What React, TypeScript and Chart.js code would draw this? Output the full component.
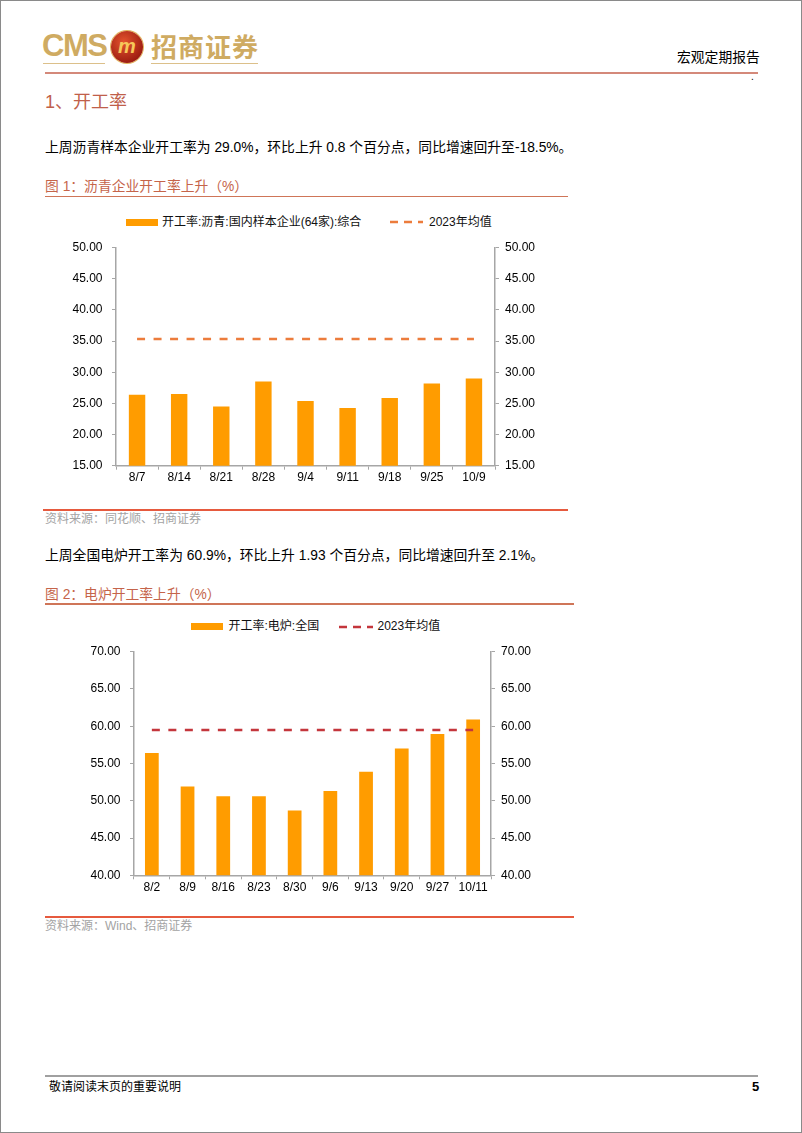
import React, { useEffect, useRef } from "react";
import { Chart, registerables } from "chart.js";

Chart.register(...registerables);

// ---------- Data ----------
const asphaltCategories = ["8/7", "8/14", "8/21", "8/28", "9/4", "9/11", "9/18", "9/25", "10/9"];
const asphaltRate = [26.4, 26.5, 24.5, 28.5, 25.4, 24.25, 25.85, 28.2, 29.0];
const asphaltAvg2023 = [35.35, 35.35, 35.35, 35.35, 35.35, 35.35, 35.35, 35.35, 35.35];
const asphaltAxis = { min: 15, max: 50, step: 5 };
const asphaltBarLabel = "开工率:沥青:国内样本企业(64家):综合";

const eafCategories = ["8/2", "8/9", "8/16", "8/23", "8/30", "9/6", "9/13", "9/20", "9/27", "10/11"];
const eafRate = [56.4, 51.9, 50.6, 50.6, 48.7, 51.3, 53.9, 57.0, 58.97, 60.9];
const eafAvg2023 = [59.5, 59.5, 59.5, 59.5, 59.5, 59.5, 59.5, 59.5, 59.5, 59.5];
const eafAxis = { min: 40, max: 70, step: 5 };
const eafBarLabel = "开工率:电炉:全国";

const avgLabel = "2023年均值";

// ---------- Styles ----------
const FONT = '"Liberation Sans", Arial, "Noto Sans CJK SC", sans-serif';
const BAR_COLOR = "#ff9c00";
const AXIS_COLOR = "#a6a6a6";

type ChartProps = {
  left: number;
  top: number;
  width: number;
  height: number;
  labels: string[];
  bars: number[];
  avg: number[];
  axis: { min: number; max: number; step: number };
  lineColor: string;
  barPct: number;
  leftW: number;
  rightW: number;
  xH: number;
  padTop: number;
  barLabel: string;
};

function BarAvgChart(p: ChartProps) {
  const ref = useRef<HTMLCanvasElement>(null);
  useEffect(() => {
    const yCommon = (position: "left" | "right", w: number, pad: number) => ({
      position,
      min: p.axis.min,
      max: p.axis.max,
      ticks: {
        stepSize: p.axis.step,
        callback: (v: any) => Number(v).toFixed(2),
        color: "#000",
        font: { size: 12, family: FONT },
        padding: pad,
      },
      grid: {
        display: true,
        drawOnChartArea: false,
        drawTicks: true,
        tickLength: 4,
        color: AXIS_COLOR,
      },
      border: { display: true, color: AXIS_COLOR, width: 1.5 },
      afterFit: (s: any) => {
        s.width = w;
      },
    });
    const chart = new Chart(ref.current!, {
      type: "bar",
      data: {
        labels: p.labels,
        datasets: [
          {
            type: "line",
            label: avgLabel,
            data: p.avg,
            borderColor: p.lineColor,
            borderWidth: 2.5,
            borderDash: [8, 8.5],
            pointRadius: 0,
            fill: false,
            yAxisID: "y",
            order: 0,
          } as any,
          {
            type: "bar",
            label: p.barLabel,
            data: p.bars,
            backgroundColor: BAR_COLOR,
            barPercentage: p.barPct,
            categoryPercentage: 1,
            yAxisID: "y",
            order: 1,
          },
        ],
      },
      options: {
        responsive: false,
        maintainAspectRatio: false,
        animation: false,
        layout: { padding: { top: p.padTop, left: 0, right: 0, bottom: 0 } },
        plugins: { legend: { display: false }, tooltip: { enabled: false } },
        scales: {
          x: {
            grid: {
              display: true,
              drawOnChartArea: false,
              drawTicks: true,
              tickLength: 4,
              color: AXIS_COLOR,
              offset: true,
            },
            border: { display: true, color: AXIS_COLOR, width: 1.5 },
            ticks: {
              color: "#000",
              font: { size: 12, family: FONT },
              padding: 1,
              maxRotation: 0,
              autoSkip: false,
            },
            afterFit: (s: any) => {
              s.height = p.xH;
            },
          },
          y: yCommon("left", p.leftW, 9.5) as any,
          y2: yCommon("right", p.rightW, 6) as any,
        },
      },
    });
    return () => chart.destroy();
  }, []);
  return (
    <canvas
      ref={ref}
      width={p.width}
      height={p.height}
      style={{ position: "absolute", left: p.left, top: p.top, width: p.width, height: p.height }}
    />
  );
}

function T(props: {
  x: number;
  y: number;
  size: number;
  color?: string;
  weight?: number | string;
  family?: string;
  children: React.ReactNode;
}) {
  const lh = Math.round(props.size * 1.4);
  return (
    <div
      style={{
        position: "absolute",
        left: props.x,
        top: props.y - lh / 2,
        fontSize: props.size,
        lineHeight: `${lh}px`,
        color: props.color || "#000",
        fontWeight: props.weight || 400,
        fontFamily: props.family || FONT,
        whiteSpace: "nowrap",
      }}
    >
      {props.children}
    </div>
  );
}

function HLine(props: { x1: number; x2: number; y: number; color: string; h?: number }) {
  const h = props.h || 1;
  return (
    <div
      style={{
        position: "absolute",
        left: props.x1,
        top: props.y - h / 2,
        width: props.x2 - props.x1,
        height: h,
        background: props.color,
      }}
    />
  );
}

function DashSwatch(props: { x1: number; x2: number; y: number; color: string }) {
  const w = props.x2 - props.x1;
  return (
    <svg
      width={w}
      height={8}
      style={{ position: "absolute", left: props.x1, top: props.y - 4 }}
    >
      <line x1={0} y1={4} x2={w} y2={4} stroke={props.color} strokeWidth={2.5} strokeDasharray="8 6" />
    </svg>
  );
}

function Legend(props: {
  y: number;
  swX: number;
  textX: number;
  label: string;
  dashX1: number;
  dashX2: number;
  avgX: number;
  lineColor: string;
}) {
  return (
    <>
      <div
        style={{
          position: "absolute",
          left: props.swX,
          top: props.y - 3.5,
          width: 32,
          height: 7,
          background: BAR_COLOR,
        }}
      />
      <T x={props.textX} y={props.y} size={12} color="#111">
        {props.label}
      </T>
      <DashSwatch x1={props.dashX1} x2={props.dashX2} y={props.y} color={props.lineColor} />
      <T x={props.avgX} y={props.y} size={12} color="#111">
        {avgLabel}
      </T>
    </>
  );
}

const GOLD = "#cfab62";
const TITLE_RED = "#c5644a";

export default function App() {
  return (
    <div
      style={{
        position: "absolute",
        left: 0,
        top: 0,
        width: 802,
        height: 1133,
        boxSizing: "border-box",
        border: "1px solid #8a8a8a",
        background: "#fff",
        overflow: "hidden",
        fontFamily: FONT,
      }}
    >
      {/* Header logo */}
      <div
        style={{
          position: "absolute",
          left: 41,
          top: 27,
          fontSize: 31,
          lineHeight: "36px",
          fontWeight: 700,
          color: GOLD,
          fontFamily: FONT,
          letterSpacing: -1.5,
        }}
      >
        CMS
      </div>
      <div
        style={{
          position: "absolute",
          left: 110,
          top: 30,
          width: 32,
          height: 32,
          borderRadius: "50%",
          background: "radial-gradient(circle at 40% 35%, #e4542e, #9c1c10 75%)",
          boxShadow: "0 0 0 1px #e3b35a",
          color: "#f6c85a",
          fontSize: 20,
          fontWeight: 700,
          fontStyle: "italic",
          lineHeight: "30px",
          textAlign: "center",
          fontFamily: FONT,
        }}
      >
        m
      </div>
      <div
        style={{
          position: "absolute",
          left: 150,
          top: 28,
          fontSize: 26,
          lineHeight: "34px",
          fontWeight: 700,
          color: GOLD,
          fontFamily: '"Noto Sans CJK SC", sans-serif',
          letterSpacing: 1,
        }}
      >
        招商证券
      </div>
      <HLine x1={42} x2={104} y={62.5} color="#dcc08a" h={1.5} />
      <HLine x1={150} x2={257} y={62.5} color="#dcc08a" h={1.5} />
      <T x={676} y={56} size={13.8}>宏观定期报告</T>
      <HLine x1={44} x2={757} y={72} color="#d4897a" h={1.2} />
      <T x={750} y={76} size={10}>.</T>

      {/* Section 1 */}
      <T x={44} y={101} size={18} color="#c0604a">1、开工率</T>
      <T x={44} y={146} size={13.8}>
        上周沥青样本企业开工率为 29.0%，环比上升 0.8 个百分点，同比增速回升至-18.5%。
      </T>
      <T x={44} y={185} size={13.8} color={TITLE_RED}>图 1：沥青企业开工率上升（%）</T>
      <HLine x1={44} x2={567} y={195.5} color="#cf7558" h={1.5} />

      <Legend
        y={221}
        swX={125}
        textX={161}
        label={asphaltBarLabel}
        dashX1={389}
        dashX2={422}
        avgX={428}
        lineColor="#ec7c3c"
      />
      <BarAvgChart
        left={30}
        top={230}
        width={540}
        height={266}
        labels={asphaltCategories}
        bars={asphaltRate}
        avg={asphaltAvg2023}
        axis={asphaltAxis}
        lineColor="#ec7c3c"
        barPct={0.39}
        leftW={85}
        rightW={76}
        xH={31.3}
        padTop={0}
        barLabel={asphaltBarLabel}
      />
      <HLine x1={42} x2={567} y={509} color="#e65a3e" h={1.2} />
      <T x={44} y={518.5} size={12} color="#a3a3a3">资料来源：同花顺、招商证券</T>

      {/* Section 2 */}
      <T x={44} y={554} size={13.8}>
        上周全国电炉开工率为 60.9%，环比上升 1.93 个百分点，同比增速回升至 2.1%。
      </T>
      <T x={44} y={593} size={13.8} color={TITLE_RED}>图 2：电炉开工率上升（%）</T>
      <HLine x1={44} x2={573} y={603} color="#cf7558" h={1.5} />

      <Legend
        y={625.5}
        swX={190}
        textX={227.5}
        label={eafBarLabel}
        dashX1={338}
        dashX2={372}
        avgX={376.5}
        lineColor="#c4363c"
      />
      <BarAvgChart
        left={40}
        top={634}
        width={530}
        height={272}
        labels={eafCategories}
        bars={eafRate}
        avg={eafAvg2023}
        axis={eafAxis}
        lineColor="#c4363c"
        barPct={0.385}
        leftW={93}
        rightW={80}
        xH={31.7}
        padTop={0}
        barLabel={eafBarLabel}
      />
      <HLine x1={44} x2={573} y={916} color="#e65a3e" h={1.2} />
      <T x={44} y={925} size={12} color="#a3a3a3">资料来源：Wind、招商证券</T>

      {/* Footer */}
      <HLine x1={44} x2={757} y={1075} color="#a0a0a0" h={1.2} />
      <T x={48} y={1086} size={12}>敬请阅读末页的重要说明</T>
      <T x={751} y={1086} size={13} weight={700}>5</T>
    </div>
  );
}
